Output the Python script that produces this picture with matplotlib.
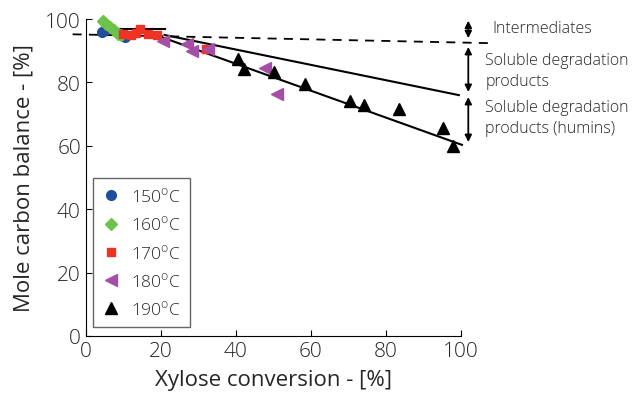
import matplotlib
matplotlib.use('Agg')
import matplotlib.pyplot as plt

plt.rcParams['font.family'] = ['Open Sans', 'DejaVu Sans']
plt.rcParams['font.weight'] = 'light'
plt.rcParams['mathtext.fontset'] = 'custom'
plt.rcParams['mathtext.rm'] = 'Open Sans:light'
plt.rcParams['text.color'] = '#262626'
plt.rcParams['axes.labelcolor'] = '#262626'
plt.rcParams['xtick.labelcolor'] = '#262626'
plt.rcParams['ytick.labelcolor'] = '#262626'

# xylose conversion [%] and mole carbon balance [%] per temperature
x150 = [4.3, 5.0, 10.4]
y150 = [95.9, 96.5, 94.3]
x160 = [4.5, 5.5, 6.5, 7.5, 8.5, 9.5]
y160 = [99.5, 98.3, 97.4, 96.5, 95.3, 95.0]
x170 = [10.0, 12.0, 13.3, 14.5, 16.5, 19.0, 32.0]
y170 = [95.3, 95.0, 95.5, 97.0, 95.3, 95.0, 90.6]
x180 = [20.5, 26.9, 28.2, 32.5, 47.7, 51.0]
y180 = [93.2, 92.2, 90.0, 90.5, 84.6, 76.3]
x190 = [40.5, 42.1, 50.1, 58.4, 70.4, 74.1, 83.5, 95.2, 97.9]
y190 = [87.4, 84.2, 83.3, 79.5, 74.1, 72.9, 71.6, 65.6, 60.0]

# trend lines (x endpoints, y endpoints)
flat_x, flat_y = [4, 21], [96.8, 96.8]
dash_x, dash_y = [-3.5, 108], [95.2, 92.4]
upper_x, upper_y = [21, 99.5], [95.0, 76.0]
lower_x, lower_y = [20, 100.3], [94.4, 60.3]

# bracket arrows on the right side
arrow_x = 102
brackets = [(99.5, 94.0), (91.2, 77.0), (75.4, 61.2)]
labels = ['150$^{\\mathrm{o}}$C', '160$^{\\mathrm{o}}$C', '170$^{\\mathrm{o}}$C',
          '180$^{\\mathrm{o}}$C', '190$^{\\mathrm{o}}$C']

fig = plt.figure(figsize=(6.4, 4.02), dpi=100)
ax = fig.add_axes([0.134, 0.162, 0.586, 0.788])

ax.plot(flat_x, flat_y, color='black', lw=1.5, clip_on=False)
ax.plot(dash_x, dash_y, color='black', lw=1.3, ls=(0, (5, 4)), clip_on=False)
ax.plot(upper_x, upper_y, color='black', lw=1.5, clip_on=False)
ax.plot(lower_x, lower_y, color='black', lw=1.5, clip_on=False)

ax.plot(x150, y150, 'o', color='#1f4e9c', ms=7, label=labels[0], clip_on=False)
ax.plot(x160, y160, 'D', color='#6cc24a', ms=6, label=labels[1], clip_on=False)
ax.plot(x170, y170, 's', color='#ee3224', ms=6, label=labels[2], clip_on=False)
ax.plot(x180, y180, '<', color='#a54ea5', ms=8, label=labels[3], clip_on=False)
ax.plot(x190, y190, '^', color='black', ms=8, label=labels[4], clip_on=False)

for top, bottom in brackets:
    ax.annotate('', xy=(arrow_x, top), xytext=(arrow_x, bottom),
                arrowprops=dict(arrowstyle='<|-|>', color='black', lw=1.3,
                                mutation_scale=10, shrinkA=0, shrinkB=0),
                annotation_clip=False)

ax.text(108.5, 97.2, 'Intermediates', fontsize=11.5, va='center', ha='left')
ax.text(106.5, 83.8, 'Soluble degradation\nproducts', fontsize=11.5, va='center',
        ha='left', linespacing=1.45)
ax.text(106.5, 68.9, 'Soluble degradation\nproducts (humins)', fontsize=11.5,
        va='center', ha='left', linespacing=1.45)

ax.set_xlim(0, 100)
ax.set_ylim(0, 100)
ax.set_xticks([0, 20, 40, 60, 80, 100])
ax.set_yticks([0, 20, 40, 60, 80, 100])
ax.spines['top'].set_visible(False)
ax.spines['right'].set_visible(False)
ax.tick_params(axis='both', direction='in', labelsize=15, length=4)
ax.set_xlabel('Xylose conversion - [%]', fontsize=16, labelpad=6)
ax.set_ylabel('Mole carbon balance - [%]', fontsize=16, labelpad=8)

leg = ax.legend(loc='lower left', bbox_to_anchor=(0.02, 0.028), fontsize=12.5,
                frameon=True, fancybox=False, edgecolor='#404040',
                handletextpad=0.6, borderpad=0.5, labelspacing=0.55,
                handlelength=1.1, borderaxespad=0)
leg.get_frame().set_linewidth(1.0)

fig.savefig('out.png', dpi=100)
